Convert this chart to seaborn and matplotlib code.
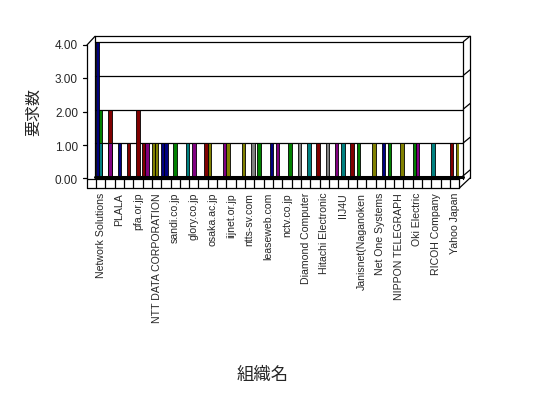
import numpy as np
import pandas as pd
import matplotlib
matplotlib.use("Agg")
import matplotlib.pyplot as plt
import seaborn as sns
from matplotlib.transforms import ScaledTranslation

# ======================================
# DATA
# ======================================

# every 2nd organisation is labelled on the axis (39 organisations in total)
shown_labels = [
    "Network Solutions", "PLALA", "pfa.or.jp", "NTT DATA CORPORATION",
    "sandi.co.jp", "glory.co.jp", "osaka.ac.jp", "iijnet.or.jp",
    "ntts-sv.com", "leaseweb.com", "nctv.co.jp", "Diamond Computer",
    "Hitachi Electronic", "IIJ4U", "Janisnet(Naganoken", "Net One Systems",
    "NIPPON TELEGRAPH", "Oki Electric", "RICOH Company", "Yahoo Japan",
]
n_orgs = 39

# one entry per visible bar: organisation index, series (0/1/2), value, colour
bar_org = [0, 0, 0, 1, 1, 2, 3, 4, 5, 5, 6, 6, 7, 7, 8, 9, 10, 11, 12, 13,
           14, 15, 16, 17, 18, 19, 20, 21, 22, 23, 24, 25, 26, 27, 28, 29,
           30, 31, 32, 34, 34, 36, 38, 38]
bar_series = [0, 1, 1, 1, 1, 1, 1, 1, 0, 1, 0, 1, 0, 1, 1, 2, 1, 2, 0, 2,
              0, 2, 2, 1, 2, 1, 2, 2, 2, 2, 2, 2, 1, 1, 0, 2,
              2, 1, 2, 0, 1, 0, 0, 2]
bar_value = [4, 2, 1, 2, 1, 1, 1, 2, 1, 1, 1, 1, 1, 1, 1, 1, 1, 1, 1, 1,
             1, 1, 1, 1, 1, 1, 1, 1, 1, 1, 1, 1, 1, 1, 1, 1,
             1, 1, 1, 1, 1, 1, 1, 1]
bar_color = ["navy", "green", "teal", "darkred", "purple", "navy", "darkred",
             "darkred", "darkred", "purple", "olive", "olive", "navy", "navy",
             "green", "teal", "purple", "darkred", "olive", "purple", "olive",
             "olive", "gray", "green", "navy", "purple", "green", "gray",
             "teal", "darkred", "gray", "purple", "teal", "darkred", "green",
             "olive", "navy", "green", "olive", "green", "purple", "teal",
             "darkred", "olive"]

yticks = [0, 1, 2, 3, 4]

# ======================================
# STYLE
# ======================================

palette = {
    "navy": "#000080",
    "darkred": "#800000",
    "green": "#008000",
    "purple": "#800080",
    "teal": "#008080",
    "olive": "#808000",
    "gray": "#808080",
}
hue_order = ["navy", "darkred", "green", "purple", "teal", "olive", "gray"]
series_offset = {0: -1 / 3, 1: 0.0, 2: 1 / 3}

sns.set_theme(style="white")
plt.rcParams["font.family"] = ["Liberation Sans", "Noto Sans CJK JP", "DejaVu Sans"]

W, H = 548, 398
fig = plt.figure(figsize=(W / 100, H / 100), dpi=100)

# plot area in pixels (y from top)
left, right, top, bottom = 96, 459.4, 36.3, 177
ax = fig.add_axes([left / W, 1 - bottom / H, (right - left) / W, (bottom - top) / H])
ax.set_facecolor("none")

# ======================================
# BARS
# ======================================

df = pd.DataFrame({
    "pos": [o + series_offset[s] for o, s in zip(bar_org, bar_series)],
    "value": bar_value,
    "color": bar_color,
})

sns.barplot(
    data=df, x="pos", y="value", hue="color", hue_order=hue_order,
    palette=palette, dodge=False, native_scale=True, width=1.15,
    saturation=1, edgecolor="black", linewidth=0.6, errorbar=None,
    legend=False, ax=ax, zorder=3,
)

ax.set_xlim(-0.5, n_orgs - 0.5)
ax.set_ylim(0, 4.17)

# ======================================
# AXES / GRID
# ======================================

for sp in ax.spines.values():
    sp.set_visible(False)

x_ext0 = (95 - left) / (right - left)
x_ext1 = (463.3 - left) / (right - left)
for y in yticks[1:]:
    ax.axhline(y, x_ext0, x_ext1, color="black", lw=0.9, clip_on=False, zorder=1)
ax.axhline(0, x_ext0, x_ext1, color="black", lw=2.2, clip_on=False, zorder=4)

ax.set_yticks(yticks)
ax.set_yticklabels([f"{v:.2f}" for v in yticks], fontsize=8.5)
ax.tick_params(axis="y", length=0, pad=13)
for lab in ax.get_yticklabels():
    lab.set_transform(lab.get_transform() + ScaledTranslation(0, -2 / 72, fig.dpi_scale_trans))

ax.set_xticks(list(range(0, n_orgs, 2)))
ax.set_xticklabels(shown_labels, rotation=90, fontsize=7.6)
ax.tick_params(axis="x", length=0, pad=11.5)

ax.set_xlabel("組織名", fontsize=12.5)
ax.set_ylabel("要求数", fontsize=11.5)
ax.xaxis.set_label_coords((263 - left) / (right - left), (bottom - 367) / (bottom - top))
ax.yaxis.set_label_coords((41 - left) / (right - left), (bottom - 112) / (bottom - top))

# ======================================
# 3D FRAME (walls and floor)
# ======================================

ov = fig.add_axes([0, 0, 1, 1])
ov.set_xlim(0, W)
ov.set_ylim(H, 0)
ov.axis("off")
ov.set_facecolor("none")

kw = dict(color="black", lw=0.9)
# back wall top and left
ov.plot([95, 470], [36.3, 36.3], **kw)
ov.plot([95, 95], [36.3, 177], **kw)
ov.plot([87, 95], [45, 36.3], **kw)
# front left axis with ticks
ov.plot([87, 87], [45, 188], **kw)
for y in [45, 78.3, 111.7, 145, 178.3]:
    ov.plot([83, 87], [y, y], **kw)
# right side wall
ov.plot([463.3, 463.3], [41.7, 179], **kw)
ov.plot([470, 470], [36.3, 178], **kw)
for y in [41.7, 75.4, 109.1, 142.9]:
    ov.plot([463.3, 470], [y, y - 5.5], **kw)
# floor front face
ov.plot([87, 459.4], [179, 179], **kw)
ov.plot([87, 459.4], [188, 188], **kw)
ov.plot([459.4, 470], [188, 178], **kw)
ov.plot([459.4, 470], [179, 170], **kw)
cell = (right - left) / n_orgs
for k in range(n_orgs + 1):
    xk = left + k * cell
    ov.plot([xk, xk], [179, 188], **kw)

fig.savefig("out.png", dpi=100)
